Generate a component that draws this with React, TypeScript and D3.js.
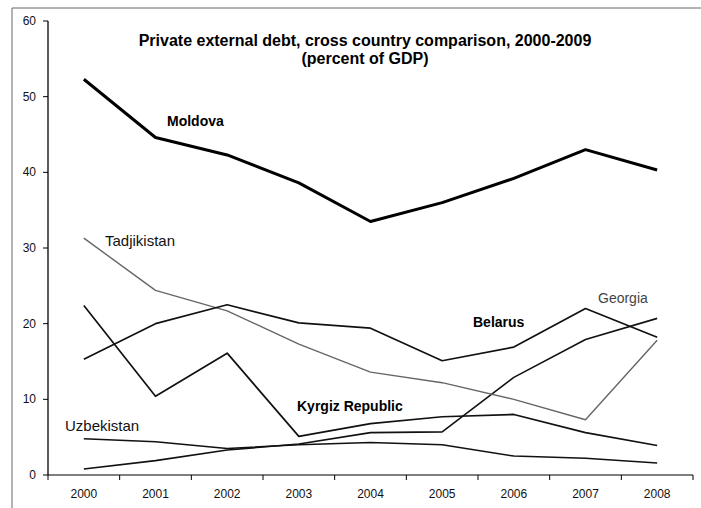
import React from "react";
import * as d3 from "d3";

const years = ["2000", "2001", "2002", "2003", "2004", "2005", "2006", "2007", "2008"];
const yTicks = [0, 10, 20, 30, 40, 50, 60];

const moldova = [52.3, 44.6, 42.3, 38.6, 33.5, 36.0, 39.2, 43.0, 40.3];
const tadjikistan = [31.3, 24.4, 21.7, 17.3, 13.6, 12.2, 10.0, 7.3, 17.8];
const belarus = [15.3, 20.0, 22.5, 20.1, 19.4, 15.1, 16.9, 22.0, 18.2];
const georgia = [0.8, 1.9, 3.3, 4.1, 5.6, 5.7, 12.9, 17.9, 20.7];
const kyrgiz = [22.4, 10.4, 16.1, 5.1, 6.8, 7.7, 8.0, 5.6, 3.9];
const uzbekistan = [4.8, 4.4, 3.5, 4.0, 4.3, 4.0, 2.5, 2.2, 1.6];

const W = 701;
const H = 508;
const font = "'Liberation Sans', Arial, sans-serif";

export default function App() {
  const x = d3.scaleBand<string>().domain(years).range([48, 693]);
  const y = d3.scaleLinear().domain([0, 60]).range([475, 21]);
  const cx = (i: number) => (x(years[i]) as number) + x.bandwidth() / 2;
  const line = d3
    .line<number>()
    .x((_, i) => cx(i))
    .y((d) => y(d));

  const series = [
    { data: uzbekistan, stroke: "#111", w: 1.5 },
    { data: georgia, stroke: "#111", w: 1.6 },
    { data: kyrgiz, stroke: "#111", w: 1.7 },
    { data: tadjikistan, stroke: "#666", w: 1.4 },
    { data: belarus, stroke: "#111", w: 1.7 },
    { data: moldova, stroke: "#000", w: 3 },
  ];

  const boundaries = years.map((yr) => x(yr) as number).concat([693]);

  const labels = [
    { t: "Moldova", x: 167, y: 126, bold: true, fill: "#000", fs: 14 },
    { t: "Tadjikistan", x: 105, y: 246, bold: false, fill: "#111", fs: 15 },
    { t: "Belarus", x: 473, y: 327, bold: true, fill: "#000", fs: 14 },
    { t: "Georgia", x: 598, y: 303, bold: false, fill: "#444", fs: 14 },
    { t: "Kyrgiz Republic", x: 297, y: 411, bold: true, fill: "#000", fs: 14 },
    { t: "Uzbekistan", x: 65, y: 431, bold: false, fill: "#111", fs: 15 },
  ];

  return (
    <svg
      width={W}
      height={H}
      style={{ position: "absolute", left: 0, top: 0, background: "#fff" }}
      fontFamily={font}
    >
      <rect x={0} y={0} width={W} height={H} fill="#fff" />
      {/* outer frame */}
      <line x1={12} y1={8} x2={12} y2={H} stroke="#666" strokeWidth={1} />
      <line x1={12} y1={8} x2={W} y2={8} stroke="#666" strokeWidth={1} />

      {/* title */}
      <text x={365} y={46} textAnchor="middle" fontSize={16} fontWeight="bold" fill="#000">
        Private external debt, cross country comparison, 2000-2009
      </text>
      <text x={365} y={64} textAnchor="middle" fontSize={16} fontWeight="bold" fill="#000">
        (percent of GDP)
      </text>

      {/* y axis */}
      <line x1={48} y1={y(60)} x2={48} y2={y(0)} stroke="#000" strokeWidth={1.3} />
      {yTicks.map((t) => (
        <g key={t}>
          <line x1={43} x2={48} y1={y(t)} y2={y(t)} stroke="#000" strokeWidth={1} />
          <text x={36} y={y(t) + 4} textAnchor="end" fontSize={12} fill="#111">
            {t}
          </text>
        </g>
      ))}

      {/* x axis */}
      <line x1={48} y1={y(0)} x2={693} y2={y(0)} stroke="#000" strokeWidth={1.2} />
      {boundaries.map((b, i) => (
        <line key={i} x1={b} x2={b} y1={y(0)} y2={y(0) + 5} stroke="#000" strokeWidth={1} />
      ))}
      {years.map((yr, i) => (
        <text key={yr} x={cx(i)} y={498} textAnchor="middle" fontSize={12} fill="#111">
          {yr}
        </text>
      ))}

      {/* lines */}
      {series.map((s, i) => (
        <path
          key={i}
          d={line(s.data) || ""}
          fill="none"
          stroke={s.stroke}
          strokeWidth={s.w}
          strokeLinejoin="round"
        />
      ))}

      {/* labels */}
      {labels.map((l) => (
        <text
          key={l.t}
          x={l.x}
          y={l.y}
          fontSize={l.fs}
          fontWeight={l.bold ? "bold" : "normal"}
          fill={l.fill}
        >
          {l.t}
        </text>
      ))}
    </svg>
  );
}
